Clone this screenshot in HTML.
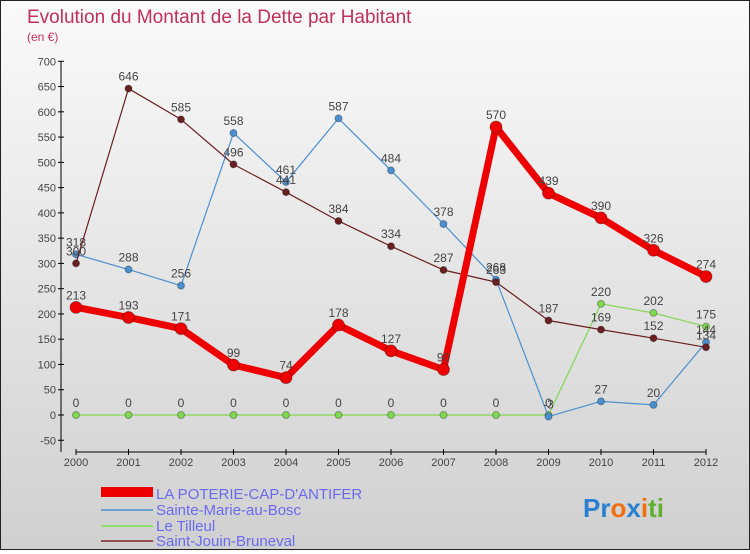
<!DOCTYPE html>
<html><head><meta charset="utf-8">
<style>
body{margin:0;width:750px;height:550px;overflow:hidden;font-family:"Liberation Sans",sans-serif}
#wrap{position:relative;width:748px;height:548px;border:1px solid #222;background:linear-gradient(#fafafa,#d0d0d0)}
</style></head><body>
<div id="wrap">
<svg id="chart" width="748" height="548">
<text x="26" y="22" font-size="19" fill="#c0305a">Evolution du Montant de la Dette par Habitant</text>
<text x="26" y="40" font-size="12" fill="#c0305a">(en €)</text>
<g id="axes"></g><g id="series"></g>
<g>
<rect x="100" y="486" width="52" height="10" fill="#e00"/>
<text x="155" y="498" font-size="15" fill="#6a6af0">LA POTERIE-CAP-D'ANTIFER</text>
<rect x="100" y="508" width="52" height="2" fill="#6aa0d0"/>
<text x="155" y="514" font-size="15" fill="#6a6af0">Sainte-Marie-au-Bosc</text>
<rect x="100" y="524" width="52" height="2" fill="#90e070"/>
<text x="155" y="530" font-size="15" fill="#6a6af0">Le Tilleul</text>
<rect x="100" y="539" width="52" height="2" fill="#905050"/>
<text x="155" y="545" font-size="15" fill="#6a6af0">Saint-Jouin-Bruneval</text>
</g>
<text x="582" y="516" font-size="26" font-weight="bold"><tspan fill="#2a80d0">Pr</tspan><tspan fill="#f07010">o</tspan><tspan fill="#2a80d0">x</tspan><tspan fill="#f07010">i</tspan><tspan fill="#60b030">ti</tspan></text>
</svg></div>
<script>
const years=[2000,2001,2002,2003,2004,2005,2006,2007,2008,2009,2010,2011,2012];
const yTicks=[-50,0,50,100,150,200,250,300,350,400,450,500,550,600,650,700];
const poterie=[213,193,171,99,74,178,127,90,570,439,390,326,274];
const sainteMarie=[318,288,256,558,461,587,484,378,268,-3,27,20,144];
const tilleul=[0,0,0,0,0,0,0,0,0,0,220,202,175];
const saintJouin=[300,646,585,496,441,384,334,287,263,187,169,152,134];
const NS="http://www.w3.org/2000/svg";
const x=i=>75+i*(630/12);
const y=v=>414-v*0.5053;
function mk(tag,attrs,parent){const e=document.createElementNS(NS,tag);for(const k in attrs)e.setAttribute(k,attrs[k]);parent.appendChild(e);return e;}
const ax=document.getElementById('axes');
let l=mk('line',{x1:60,y1:y(700),x2:60,y2:451,stroke:'#000'},ax);


l=mk('line',{x1:75,y1:451,x2:705,y2:451,stroke:'#000'},ax);


yTicks.forEach(v=>{
 mk('line',{x1:57,y1:y(v),x2:63,y2:y(v),stroke:'#000'},ax);
 const t=mk('text',{x:55,y:y(v)+4,'font-size':11,'text-anchor':'end',fill:'#444'},ax);
 t.textContent=v;
 
 
});
years.forEach((yr,i)=>{
 mk('line',{x1:x(i),y1:448,x2:x(i),y2:454,stroke:'#000'},ax);
 const t=mk('text',{x:x(i),y:465,'font-size':11,'text-anchor':'middle',fill:'#444'},ax);
 t.textContent=yr;
 
 
});
const sg=document.getElementById('series');
function series(data,color,w,r,name){
 const g=mk('g',{},sg);
 
 
 const p=mk('polyline',{points:data.map((v,i)=>x(i)+','+y(v)).join(' '),fill:'none',stroke:color,'stroke-width':w,'stroke-linejoin':'round'},g);
 
 
 data.forEach((v,i)=>{
  const c=mk('circle',{cx:x(i),cy:y(v),r:r,fill:color,stroke:'rgba(0,0,0,0.3)'},g);
  
  
  const t=mk('text',{x:x(i),y:y(v)-8,'font-size':12,'text-anchor':'middle',fill:'#444'},g);
  t.textContent=v;
  
  
 });
}
series(tilleul,'#80d850',1.2,3.5,'tilleul');
series(sainteMarie,'#4a90d0',1.2,3.5,'sainte-marie');
series(saintJouin,'#6a2020',1.2,3.5,'saint-jouin');
series(poterie,'#ee0000',7,6,'poterie');
</script>
</body></html>
